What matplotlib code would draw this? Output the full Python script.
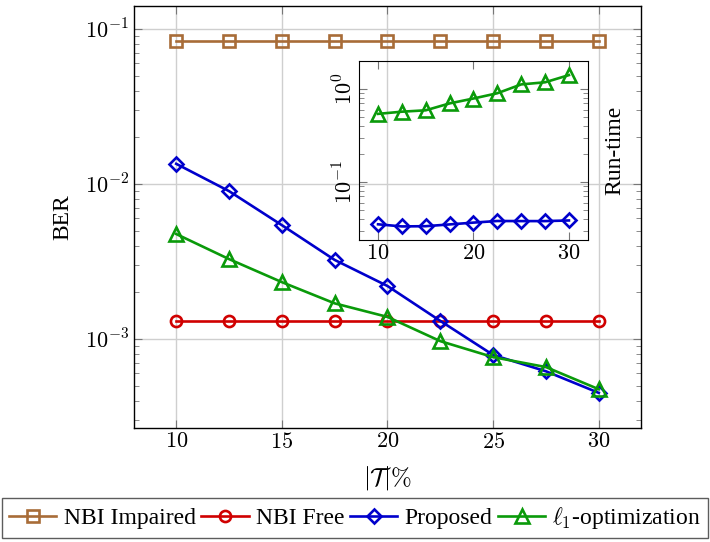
import matplotlib
matplotlib.use("Agg")
import matplotlib.pyplot as plt
import matplotlib.ticker as mticker
import numpy as np

plt.rcParams['font.family'] = ['Liberation Serif', 'DejaVu Serif']
plt.rcParams['mathtext.fontset'] = 'cm'

# sparsity |T| in percent
t_pct = [10, 12.5, 15, 17.5, 20, 22.5, 25, 27.5, 30]

# BER curves
ber_impaired = [0.0837] * 9
ber_free = [1.31e-3] * 9
ber_proposed = [0.0135, 0.0090, 0.00543, 0.00324, 0.0022, 0.00131, 7.9e-4, 6.2e-4, 4.5e-4]
ber_l1 = [0.00476, 0.00328, 0.00233, 0.0017, 0.00139, 9.7e-4, 7.65e-4, 6.6e-4, 4.75e-4]

# run-time curves (inset)
rt_proposed = [0.0351, 0.0333, 0.0335, 0.035, 0.0366, 0.0381, 0.038, 0.038, 0.0386]
rt_l1 = [0.54, 0.57, 0.59, 0.70, 0.79, 0.90, 1.12, 1.18, 1.41]

labels = ['NBI Impaired', 'NBI Free', 'Proposed', r'$\ell_1$-optimization']
colors = ['#a86c38', '#d00000', '#0000cc', '#0a9a0a']
markers = ['s', 'o', 'D', '^']
msizes = [8, 8, 7.5, 9.5]


def pow10(v, _):
    return r'$10^{%d}$' % int(round(np.log10(v)))


def num(v, _):
    return r'$%d$' % int(round(v))


fig = plt.figure(figsize=(7.1, 5.42), dpi=100)
ax = fig.add_axes([0.1887, 0.2103, 0.7141, 0.7786])

series = [ber_impaired, ber_free, ber_proposed, ber_l1]
handles = []
for y, c, m, ms, lab in zip(series, colors, markers, msizes, labels):
    h, = ax.plot(t_pct, y, color=c, lw=1.9, marker=m, ms=ms, mfc='none',
                 mec=c, mew=1.9, label=lab)
    handles.append(h)

ax.set_yscale('log')
ax.set_xlim(8, 32)
ax.set_ylim(2.67e-4, 0.1406)
ax.set_xticks([10, 15, 20, 25, 30])
ax.xaxis.set_major_formatter(mticker.FuncFormatter(num))
ax.yaxis.set_major_formatter(mticker.FuncFormatter(pow10))
ax.yaxis.set_minor_formatter(mticker.NullFormatter())
ax.grid(True, which='major', color='#cfcfcf', lw=1.0)
ax.tick_params(which='both', direction='in', top=True, right=True,
               color='#777777', labelsize=16)
ax.tick_params(which='major', length=6)
ax.tick_params(which='minor', length=3.5)
for s in ax.spines.values():
    s.set_linewidth(1.0)
ax.set_xlabel(r'$|\mathcal{T}|\%$', fontsize=18, labelpad=8)
ax.set_ylabel('BER', fontsize=17, labelpad=8)

# run-time inset, no background so the main grid shows through
ins = fig.add_axes([0.5056, 0.5572, 0.3226, 0.3303])
ins.patch.set_alpha(0)
ins.plot(t_pct, rt_proposed, color=colors[2], lw=1.9, marker='D', ms=7.5,
         mfc='none', mec=colors[2], mew=1.9)
ins.plot(t_pct, rt_l1, color=colors[3], lw=1.9, marker='^', ms=9.5,
         mfc='none', mec=colors[3], mew=1.9)
ins.set_yscale('log')
ins.set_xlim(8, 32)
ins.set_ylim(0.0238, 2.0)
ins.set_xticks([10, 20, 30])
ins.xaxis.set_major_formatter(mticker.FuncFormatter(num))
ins.yaxis.set_major_formatter(mticker.FuncFormatter(pow10))
ins.yaxis.set_minor_formatter(mticker.NullFormatter())
ins.tick_params(which='both', direction='in', top=True, right=True,
                color='#777777', labelsize=16)
ins.tick_params(axis='y', labelrotation=90, pad=1)
ins.tick_params(which='major', length=6)
ins.tick_params(which='minor', length=3.5)
for lab in ins.get_yticklabels():
    lab.set_va('center')
ins.yaxis.set_label_position('right')
ins.set_ylabel('Run-time', fontsize=17, labelpad=12)

fig.legend(handles=handles, loc='lower left', ncol=4, mode='expand',
           bbox_to_anchor=(0.003, 0.007, 0.994, 0.08), fontsize=17,
           frameon=True, fancybox=False, edgecolor='#333333',
           handlelength=2.0, handletextpad=0.3, columnspacing=0.3,
           borderpad=0.3, borderaxespad=0.0)

fig.savefig('out.png', dpi=100)
